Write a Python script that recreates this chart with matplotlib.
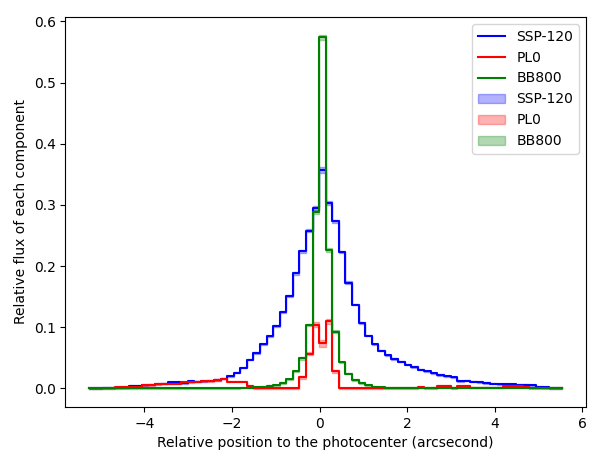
import numpy as np
import matplotlib
matplotlib.use("Agg")
import matplotlib.pyplot as plt

# bin layout (arcsec)
x_start = -5.26
bin_width = 0.15

ssp_120 = [0.0005, 0.0005, 0.001, 0.001, 0.001, 0.002, 0.004, 0.004, 0.005, 0.006,
           0.007, 0.008, 0.010, 0.010, 0.009, 0.012, 0.011, 0.012, 0.013, 0.014,
           0.016, 0.020, 0.026, 0.034, 0.047, 0.058, 0.072, 0.085, 0.102, 0.125,
           0.151, 0.188, 0.224, 0.258, 0.295, 0.357, 0.303, 0.273, 0.223, 0.173,
           0.137, 0.107, 0.086, 0.072, 0.062, 0.054, 0.048, 0.044, 0.039, 0.035,
           0.031, 0.028, 0.025, 0.022, 0.020, 0.018, 0.012, 0.013, 0.011, 0.010,
           0.009, 0.008, 0.007, 0.0065, 0.0065, 0.006, 0.006, 0.005, 0.003, 0.002,
           0.0005, 0.0005]

pl0 = [0.0, 0.0, 0.0, 0.0, 0.002, 0.002, 0.003, 0.003, 0.005, 0.005,
       0.008, 0.008, 0.008, 0.008, 0.010, 0.010, 0.011, 0.012, 0.012, 0.014,
       0.016, 0.011, 0.011, 0.011, 0.004, 0.0005, 0.0005, 0.0005, 0.0005, 0.0005,
       0.0005, 0.0005, 0.018, 0.057, 0.104, 0.074, 0.110, 0.028, 0.0005, 0.0005,
       0.0005, 0.0005, 0.0005, 0.0005, 0.0005, 0.0005, 0.0005, 0.0005, 0.0005, 0.0005,
       0.002, 0.0005, 0.0005, 0.004, 0.004, 0.0005, 0.004, 0.004, 0.001, 0.001,
       0.001, 0.001, 0.001, 0.004, 0.004, 0.004, 0.003, 0.0005, 0.0005, 0.0005,
       0.0005, 0.0005]

bb800 = [0.0005, 0.0005, 0.0005, 0.0005, 0.0005, 0.0005, 0.0005, 0.0005, 0.0005, 0.0005,
         0.0005, 0.0005, 0.0005, 0.0005, 0.0005, 0.0005, 0.0005, 0.0005, 0.0005, 0.0005,
         0.0005, 0.0005, 0.0005, 0.001, 0.0015, 0.002, 0.003, 0.004, 0.005, 0.009,
         0.015, 0.028, 0.049, 0.104, 0.288, 0.574, 0.226, 0.093, 0.043, 0.024,
         0.014, 0.009, 0.005, 0.003, 0.002, 0.0015, 0.001, 0.001, 0.001, 0.001,
         0.001, 0.001, 0.001, 0.001, 0.001, 0.001, 0.001, 0.001, 0.001, 0.001,
         0.001, 0.001, 0.001, 0.001, 0.001, 0.001, 0.001, 0.001, 0.001, 0.001,
         0.001, 0.001]

# estimated uncertainty bands
ssp_err = [0.001] * 30 + [0.002, 0.002, 0.002, 0.003, 0.003, 0.005, 0.003, 0.002, 0.002, 0.002] + [0.001] * 32
pl0_err = [0.001] * 32 + [0.002, 0.003, 0.004, 0.006, 0.004, 0.002] + [0.001] * 34
bb_err = [0.001] * 32 + [0.002, 0.002, 0.003, 0.004, 0.003, 0.002] + [0.001] * 34

labels = ["SSP-120", "PL0", "BB800"]
colors = ["blue", "red", "green"]
series = [ssp_120, pl0, bb800]
errs = [ssp_err, pl0_err, bb_err]

n = len(ssp_120)
edges = x_start + bin_width * np.arange(n + 1)

fig = plt.figure(figsize=(5.9, 4.5), dpi=100)
ax = fig.add_axes([0.111, 0.096, 0.882, 0.866])

for lab, c, y in zip(labels, colors, series):
    y = np.asarray(y)
    ax.step(edges, np.append(y, y[-1]), where="post", color=c, label=lab, lw=1.5)

for lab, c, y, e in zip(labels, colors, series, errs):
    y = np.asarray(y)
    e = np.asarray(e)
    lo = np.append(y - e, (y - e)[-1])
    hi = np.append(y + e, (y + e)[-1])
    ax.fill_between(edges, lo, hi, step="post", color=c, alpha=0.3, label=lab)

ax.set_xlabel("Relative position to the photocenter (arcsecond)")
ax.set_ylabel("Relative flux of each component")
ax.legend(loc="upper right")
ax.set_xticks([-4, -2, 0, 2, 4, 6])

fig.savefig("out.png", dpi=100)
